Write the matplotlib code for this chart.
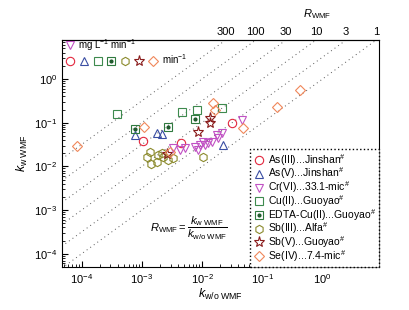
import numpy as np
import matplotlib
matplotlib.use("Agg")
import matplotlib.pyplot as plt
from matplotlib.legend_handler import HandlerTuple
from matplotlib import ticker

plt.rcParams['font.family'] = ['Liberation Sans', 'DejaVu Sans']
plt.rcParams['mathtext.fontset'] = 'custom'
plt.rcParams['mathtext.rm'] = 'Liberation Sans'
plt.rcParams['mathtext.it'] = 'Liberation Sans:italic'
plt.rcParams['mathtext.bf'] = 'Liberation Sans:bold'

# rate constants: (k w/o WMF, k w WMF)
as3_x = [1.05e-3, 4.45e-3, 3.09e-2]
as3_y = [0.039, 0.035, 0.097]

as5_x = [7.7e-4, 1.76e-3, 2.13e-3, 2.24e-2]
as5_y = [0.0525, 0.0574, 0.0545, 0.031]

cr6_x = [4.53e-2, 1.74e-2, 2.11e-2, 1.85e-2, 1.04e-2, 1.26e-2, 1.44e-2,
         1.11e-2, 9.2e-3, 7.6e-3, 8.6e-3, 5.19e-3, 4.28e-3, 3.27e-3]
cr6_y = [0.116, 0.0525, 0.0574, 0.0441, 0.0369, 0.0339, 0.0369,
         0.031, 0.031, 0.0284, 0.0238, 0.026, 0.0238, 0.0265]

cu2_x = [3.9e-4, 4.57e-3, 8.1e-3, 2.11e-2]
cu2_y = [0.158, 0.173, 0.195, 0.214]

edta_x = [7.7e-4, 2.74e-3, 7.6e-3]
edta_y = [0.0709, 0.0787, 0.123]

sb3_x = [1.23e-3, 1.44e-3, 1.36e-3, 1.76e-3, 1.87e-3, 2.13e-3, 2.26e-3,
         2.74e-3, 3.31e-3, 1.04e-2]
sb3_y = [0.0162, 0.0114, 0.0211, 0.0129, 0.0183, 0.020, 0.0168,
         0.0141, 0.0154, 0.0168]

sb5_x = [1.35e-2, 1.35e-2, 8.4e-3, 2.58e-3]
sb5_y = [0.126, 0.097, 0.0625, 0.019]

se4_x = [8.3e-5, 1.1e-3, 1.54e-2, 1.66e-2, 4.81e-2, 0.174, 0.42, 2.92e-3]
se4_y = [0.0299, 0.081, 0.275, 0.19, 0.074, 0.229, 0.56, 0.0214]

r_lines = [1, 10 ** 0.5, 10, 10 ** 1.5, 100, 10 ** 2.5]
r_labels = ['1', '3', '10', '30', '100', '300']

series_labels = [r'As(III)...Jinshan$^{\#}$', r'As(V)...Jinshan$^{\#}$',
                 r'Cr(VI)...33.1-mic$^{\#}$', r'Cu(II)...Guoyao$^{\#}$',
                 r'EDTA-Cu(II)...Guoyao$^{\#}$', r'Sb(III)...Alfa$^{\#}$',
                 r'Sb(V)...Guoyao$^{\#}$', r'Se(IV)...7.4-mic$^{\#}$']

xlim = (4.7e-5, 8.6)
ylim = (5e-5, 7.8)


class Overlay(tuple):
    """handles drawn on top of each other in a legend"""
    pass


fig = plt.figure(figsize=(4.1, 3.1), dpi=100)
ax = fig.add_axes([0.151, 0.139, 0.773, 0.732])
ax.set_xscale('log')
ax.set_yscale('log')
ax.set_xlim(xlim)
ax.set_ylim(ylim)

# iso-R dotted guides
xx = np.array(xlim)
for r in r_lines:
    ax.plot(xx, r * xx, linestyle=(0, (1, 3.5)), color='#555555', lw=0.7, zorder=1)

ms = 6
mew = 0.8
kw = dict(linestyle='none', fillstyle='none', markersize=ms, markeredgewidth=mew, zorder=3)

h_as3, = ax.plot(as3_x, as3_y, 'o', color='#e3283f', **kw)
h_as5, = ax.plot(as5_x, as5_y, '^', color='#3a4ea3', **kw)
h_cr6, = ax.plot(cr6_x, cr6_y, 'v', color='#c152c4', **kw)
h_cu2, = ax.plot(cu2_x, cu2_y, 's', color='#3e8a4e', **kw)
h_edta, = ax.plot(edta_x, edta_y, 's', color='#2f7a3f', **kw)
h_edta_dot, = ax.plot(edta_x, edta_y, 'o', color='#1f5a2c', linestyle='none',
                      markersize=2, zorder=3)
h_sb3, = ax.plot(sb3_x, sb3_y, 'h', color='#8b8a2c', **kw)
h_sb5, = ax.plot(sb5_x, sb5_y, '*', color='#8a1c1c', fillstyle='none', linestyle='none',
                 markersize=ms + 2, markeredgewidth=mew, zorder=3)
h_se4, = ax.plot(se4_x, se4_y, 'D', color='#f0875a', fillstyle='none', linestyle='none',
                 markersize=ms - 0.8, markeredgewidth=mew, zorder=3)
edta_key = Overlay((h_edta, h_edta_dot))

ax.tick_params(which='both', direction='in', top=False, right=False, labelsize=8)
ax.tick_params(which='major', length=4, width=0.8)
ax.tick_params(which='minor', length=2, width=0.6)
ax.xaxis.set_major_locator(ticker.LogLocator(base=10, numticks=12))
ax.yaxis.set_major_locator(ticker.LogLocator(base=10, numticks=12))
ax.xaxis.set_minor_locator(ticker.LogLocator(base=10, subs=np.arange(2, 10), numticks=12))
ax.yaxis.set_minor_locator(ticker.LogLocator(base=10, subs=np.arange(2, 10), numticks=12))
ax.xaxis.set_minor_formatter(ticker.NullFormatter())
ax.yaxis.set_minor_formatter(ticker.NullFormatter())

ax.set_xlabel(r'$k_{\mathrm{w/o\ WMF}}$', fontsize=9, labelpad=1)
ax.set_ylabel(r'$k_{\mathrm{w\ WMF}}$', fontsize=9, labelpad=3)

# top axis in terms of R = ymax / x
ymax = ylim[1]
sec = ax.secondary_xaxis('top', functions=(lambda x: ymax / x, lambda r: ymax / r))
sec.set_xticks(r_lines)
sec.set_xticklabels(r_labels)
sec.xaxis.set_minor_locator(ticker.NullLocator())
sec.tick_params(length=0, labelsize=8, pad=2)
ax.text(0.805, 1.115, r'$R_{\mathrm{WMF}}$', transform=ax.transAxes,
        ha='center', va='center', fontsize=8)

ax.text(0.40, 0.17, r'$R_{\mathrm{WMF}} = \dfrac{k_{\mathrm{w\ WMF}}}{k_{\mathrm{w/o\ WMF}}}$',
        transform=ax.transAxes, ha='center', va='center', fontsize=8)

handler_map = {Overlay: HandlerTuple(ndivide=1),
               tuple: HandlerTuple(ndivide=None, pad=0)}

# species legend
handles = [h_as3, h_as5, h_cr6, h_cu2, edta_key, h_sb3, h_sb5, h_se4]
leg = ax.legend(handles, series_labels, loc='lower right', bbox_to_anchor=(1, 0),
                borderaxespad=0, fontsize=7.5, handlelength=1.0, handletextpad=0.35,
                labelspacing=-0.2, borderpad=0.3, fancybox=False, framealpha=1,
                handler_map=handler_map)
leg.get_frame().set_edgecolor('black')
leg.get_frame().set_linestyle(':')
leg.get_frame().set_linewidth(1.0)

# unit keys (upper left)
leg1 = ax.legend([h_cr6], [r'mg L$^{-1}$ min$^{-1}$'], loc='center left',
                 bbox_to_anchor=(0.01, 0.978), borderaxespad=0, borderpad=0,
                 frameon=False, fontsize=7, handlelength=1.0, handletextpad=0.3)
unit_handles = (h_as3, h_as5, h_cu2, edta_key, h_sb3, h_sb5, h_se4)
leg2 = ax.legend([unit_handles], [r'min$^{-1}$'], loc='center left',
                 bbox_to_anchor=(0.003, 0.916), borderaxespad=0, borderpad=0,
                 frameon=False, fontsize=7, handlelength=10.0, handletextpad=0.2,
                 handler_map=handler_map)
ax.add_artist(leg1)
ax.add_artist(leg)

fig.savefig('out.png', dpi=100)
